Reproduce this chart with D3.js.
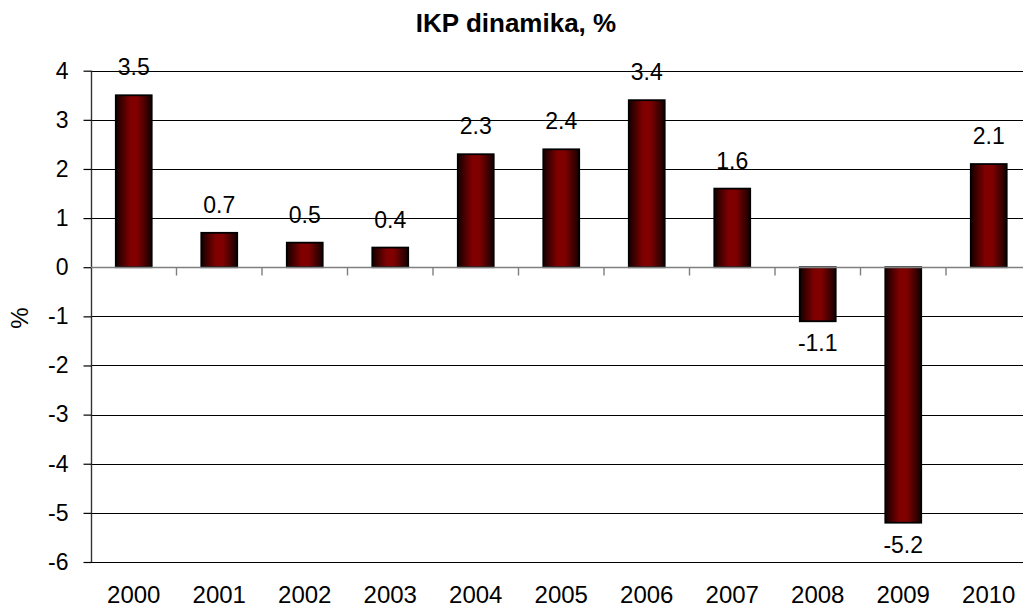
<!DOCTYPE html>
<html>
<head>
<meta charset="utf-8">
<script src="https://cdn.jsdelivr.net/npm/d3@7"></script>
<style>
  html, body { margin: 0; padding: 0; background: #fff; }
  svg { display: block; font-family: Arial, "Liberation Sans", sans-serif; }
</style>
</head>
<body>
<div id="chart"></div>
<script>
const years = ['2000', '2001', '2002', '2003', '2004', '2005', '2006', '2007', '2008', '2009', '2010'];
const growth = [3.5, 0.7, 0.5, 0.4, 2.3, 2.4, 3.4, 1.6, -1.1, -5.2, 2.1];
const yTicks = [4, 3, 2, 1, 0, -1, -2, -3, -4, -5, -6];

const width = 1023;
const height = 608;
const margin = { top: 70.7, right: -8.5, bottom: 46, left: 91 };

const $svg = d3.select('#chart').append('svg')
  .attr('width', width)
  .attr('height', height);

const defs = $svg.append('defs');
const grad = defs.append('linearGradient')
  .attr('id', 'barFill')
  .attr('x1', '0%').attr('x2', '100%')
  .attr('y1', '0%').attr('y2', '0%');
grad.append('stop').attr('offset', '0%').attr('stop-color', '#140000');
grad.append('stop').attr('offset', '40%').attr('stop-color', '#800000');
grad.append('stop').attr('offset', '60%').attr('stop-color', '#800000');
grad.append('stop').attr('offset', '100%').attr('stop-color', '#140000');

// scales
const x = d3.scaleBand()
  .domain(years)
  .range([margin.left, width - margin.right])
  .paddingInner(0.58)
  .paddingOuter(0.29);

const y = d3.scaleLinear()
  .domain([-6, 4])
  .range([height - margin.bottom, margin.top]);

// plain hyphen for negatives, like the original
const fmt = d => String(d);

// title
$svg.append('text')
  .attr('x', 516)
  .attr('y', 32)
  .attr('text-anchor', 'middle')
  .attr('font-size', 26)
  .attr('font-weight', 'bold')
  .text('IKP dinamika, %');

// axis title
$svg.append('text')
  .attr('transform', 'translate(28, 318) rotate(-90)')
  .attr('text-anchor', 'middle')
  .attr('font-size', 24)
  .text('%');

// gridlines
$svg.append('g')
  .attr('class', 'grid')
  .selectAll('line')
  .data(yTicks.filter(d => d !== 0))
  .enter()
  .append('line')
  .attr('x1', margin.left)
  .attr('x2', width - margin.right)
  .attr('y1', d => Math.round(y(d)) + 0.5)
  .attr('y2', d => Math.round(y(d)) + 0.5)
  .attr('stroke', '#000')
  .attr('stroke-width', 1.2);

// y axis
const yAxis = d3.axisLeft(y)
  .tickValues(yTicks)
  .tickFormat(fmt)
  .tickSize(8)
  .tickPadding(15);

$svg.append('g')
  .attr('class', 'axis y')
  .attr('transform', `translate(${margin.left + 0.5}, 0)`)
  .call(yAxis)
  .call(g => g.select('.domain')
    .attr('d', `M0,${y(4)}V${y(-6)}`)
    .attr('stroke', '#333')
    .attr('stroke-width', 1.4))
  .call(g => g.selectAll('.tick line').attr('stroke', '#000').attr('stroke-width', 1.2))
  .call(g => g.selectAll('.tick text')
    .attr('font-size', 23)
    .attr('font-family', 'Arial, "Liberation Sans", sans-serif')
    .attr('fill', '#000'));

// bars
$svg.append('g')
  .attr('class', 'bars')
  .selectAll('rect')
  .data(growth)
  .enter()
  .append('rect')
  .attr('x', (d, i) => x(years[i]))
  .attr('width', x.bandwidth())
  .attr('y', d => y(Math.max(d, 0)))
  .attr('height', d => Math.abs(y(d) - y(0)))
  .attr('fill', 'url(#barFill)')
  .attr('stroke', '#000')
  .attr('stroke-width', 1.8);

// zero line and category ticks
const y0 = Math.round(y(0)) + 0.5;
$svg.append('line')
  .attr('x1', margin.left)
  .attr('x2', width - margin.right)
  .attr('y1', y0)
  .attr('y2', y0)
  .attr('stroke', '#7f7f7f')
  .attr('stroke-width', 1.4);

$svg.append('g')
  .attr('class', 'cat-ticks')
  .selectAll('line')
  .data(d3.range(1, years.length + 1))
  .enter()
  .append('line')
  .attr('x1', i => margin.left + i * x.step())
  .attr('x2', i => margin.left + i * x.step())
  .attr('y1', y0)
  .attr('y2', y0 + 8)
  .attr('stroke', '#7f7f7f')
  .attr('stroke-width', 1.4);

// x labels along the bottom
const xAxis = d3.axisBottom(x)
  .tickSize(0)
  .tickPadding(24);

$svg.append('g')
  .attr('class', 'axis x')
  .attr('transform', `translate(0, ${y(-6)})`)
  .call(xAxis)
  .call(g => g.select('.domain').remove())
  .call(g => g.selectAll('.tick text')
    .attr('font-size', 24)
    .attr('font-family', 'Arial, "Liberation Sans", sans-serif')
    .attr('fill', '#000'));

// value labels
$svg.append('g')
  .attr('class', 'labels')
  .selectAll('text')
  .data(growth)
  .enter()
  .append('text')
  .attr('x', (d, i) => x(years[i]) + x.bandwidth() / 2)
  .attr('y', d => d >= 0 ? y(d) - 20 : y(d) + 30)
  .attr('text-anchor', 'middle')
  .attr('font-size', 23)
  .attr('fill', '#000')
  .text(fmt);
</script>
</body>
</html>
